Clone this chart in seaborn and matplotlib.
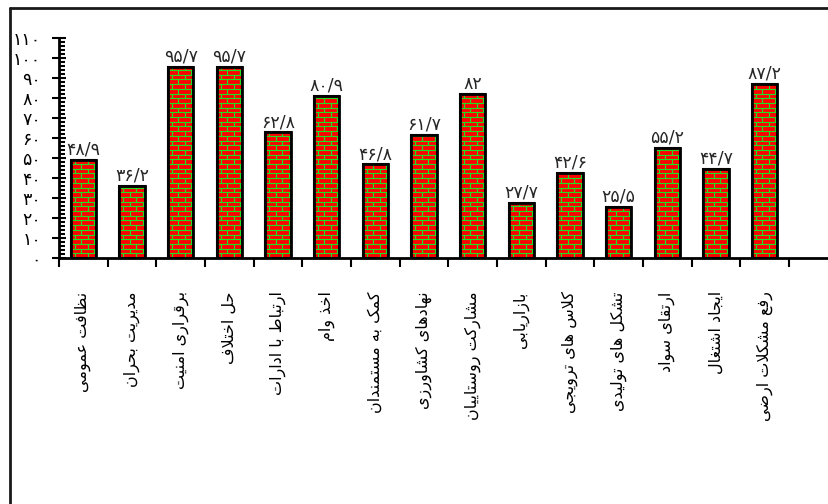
import matplotlib
matplotlib.use("Agg")
import matplotlib.pyplot as plt
import seaborn as sns
import pandas as pd
from matplotlib.collections import LineCollection
from matplotlib.patches import Rectangle
from matplotlib.lines import Line2D
from matplotlib.ticker import FixedLocator, MultipleLocator

categories = ["نظافت عمومی", "مدیریت بحران", "برقراری امنیت", "حل اختلاف",
              "ارتباط با ادارات", "اخذ وام", "کمک به مستمندان", "نهادهای کشاورزی",
              "مشارکت روستاییان", "بازاریابی", "کلاس های ترویجی", "تشکل های تولیدی",
              "ارتقای سواد", "ایجاد اشتغال", "رفع مشکلات ارضی"]
values = [48.9, 36.2, 95.7, 95.7, 62.8, 80.9, 46.8, 61.7, 82, 27.7,
          42.6, 25.5, 55.2, 44.7, 87.2]
y_ticks = list(range(0, 111, 10))

BRICK_RED = "#ff0000"
MORTAR = "#22dd22"

# --- minimal Persian shaping (matplotlib has no bidi / joining) ---
DUAL = {'ب': 0xFE8F, 'ت': 0xFE95, 'ث': 0xFE99, 'ج': 0xFE9D, 'ح': 0xFEA1, 'خ': 0xFEA5,
        'س': 0xFEB1, 'ش': 0xFEB5, 'ص': 0xFEB9, 'ض': 0xFEBD, 'ط': 0xFEC1, 'ظ': 0xFEC5,
        'ع': 0xFEC9, 'غ': 0xFECD, 'ف': 0xFED1, 'ق': 0xFED5, 'ل': 0xFEDD, 'م': 0xFEE1,
        'ن': 0xFEE5, 'ه': 0xFEE9, 'پ': 0xFB56, 'چ': 0xFB7A, 'ک': 0xFB8E, 'گ': 0xFB92,
        'ی': 0xFBFC}
RIGHT = {'ا': 0xFE8D, 'آ': 0xFE81, 'د': 0xFEA9, 'ذ': 0xFEAB, 'ر': 0xFEAD, 'ز': 0xFEAF,
         'ژ': 0xFB8A, 'و': 0xFEED}
LETTERS = {**DUAL, **RIGHT}


def shape(text):
    out, i, n = [], 0, len(text)
    while i < n:
        c = text[i]
        if c not in LETTERS:
            out.append(c)
            i += 1
            continue
        joins_prev = i > 0 and text[i - 1] in DUAL
        if c == 'ل' and i + 1 < n and text[i + 1] == 'ا':
            out.append(chr(0xFEFC if joins_prev else 0xFEFB))
            i += 2
            continue
        joins_next = c in DUAL and i + 1 < n and text[i + 1] in LETTERS
        base = LETTERS[c]
        if joins_prev and joins_next:
            code = base + 3
        elif joins_prev:
            code = base + 1
        elif joins_next:
            code = base + 2
        else:
            code = base
        out.append(chr(code))
        i += 1
    return ''.join(reversed(out))


def fa_num(v):
    s = f"{v:g}".replace('.', '/')
    return s.translate(str.maketrans("0123456789", "۰۱۲۳۴۵۶۷۸۹"))


sns.set_theme(style="white")
plt.rcParams['font.family'] = ['DejaVu Sans']

fig = plt.figure(figsize=(8.29, 5.04), dpi=100)
ax = fig.add_axes([59 / 829, 1 - 258 / 504, 770 / 829, 220 / 504])

df = pd.DataFrame({"category": [shape(c) for c in categories], "value": values})
sns.barplot(data=df, x="category", y="value", color=BRICK_RED, saturation=1,
            width=0.52, edgecolor="black", linewidth=1.5, ax=ax)

xmax = 14.5 + 40 / 48.67
ax.set_xlim(-0.5, xmax)
ax.set_ylim(0, 110)

# brick texture, cut to each bar's outline
px = ax.transData.transform((1, 1)) - ax.transData.transform((0, 0))
bw, rh = 13 / px[0], 4.7 / px[1]
bars = list(ax.patches)
for p in bars:
    x0, w, h = p.get_x(), p.get_width(), p.get_height()
    segs = []
    k = 0
    while k * rh < h:
        y = k * rh
        if y > 0:
            segs.append([(x0, y), (x0 + w, y)])
        top = min(y + rh, h)
        x = x0 + (0.3 + 0.5 * (k % 2)) * bw
        while x < x0 + w:
            segs.append([(x, y), (x, top)])
            x += bw
        k += 1
    ax.add_collection(LineCollection(segs, colors=MORTAR, linewidths=0.85,
                                     zorder=p.get_zorder() + 0.1), autolim=False)
    ax.add_patch(Rectangle((x0, 0), w, h, fill=False, edgecolor="black",
                           linewidth=2, zorder=p.get_zorder() + 0.2))

ax.bar_label(ax.containers[0], labels=[fa_num(v) for v in values],
             padding=1, fontsize=12.5)

ax.set_xlim(-0.5, xmax)
ax.set_ylim(0, 110)
ax.set_xlabel("")
ax.set_ylabel("")

for side in ["top", "right"]:
    ax.spines[side].set_visible(False)
for side in ["left", "bottom"]:
    ax.spines[side].set_color("black")
    ax.spines[side].set_linewidth(2)

ax.yaxis.set_major_locator(FixedLocator(y_ticks))
ax.set_yticklabels([fa_num(t) for t in y_ticks], fontsize=12.5)
ax.yaxis.set_minor_locator(MultipleLocator(2))
ax.tick_params(axis="y", which="major", left=True, direction="inout",
               length=10, width=1.5, pad=8, colors="black")
ax.tick_params(axis="y", which="minor", left=True, direction="in",
               length=4.5, width=1.5, colors="black")

ax.xaxis.set_minor_locator(FixedLocator([i - 0.5 for i in range(len(categories) + 1)]))
ax.tick_params(axis="x", which="minor", bottom=True, direction="out",
               length=6.5, width=1.5, colors="black")
ax.tick_params(axis="x", which="major", bottom=True, length=0, pad=24,
               labelsize=11.5, labelrotation=90, colors="black")
for lab in ax.get_xticklabels():
    lab.set_verticalalignment("top")

# outer frame of the cropped figure
fig.add_artist(Line2D([10 / 829, 10 / 829], [0, 1 - 8 / 504], transform=fig.transFigure,
                      color="#1a1a1a", linewidth=2))
fig.add_artist(Line2D([10 / 829, 1], [1 - 8 / 504, 1 - 8 / 504], transform=fig.transFigure,
                      color="#1a1a1a", linewidth=2))

fig.savefig("out.png", dpi=100)
